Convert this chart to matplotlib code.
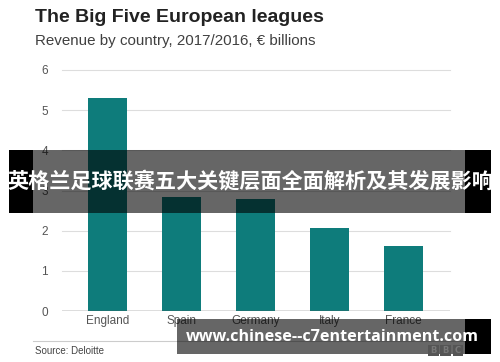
import matplotlib
matplotlib.use("Agg")
import matplotlib.pyplot as plt
from matplotlib.patches import Rectangle
from matplotlib.lines import Line2D

countries = ["England", "Spain", "Germany", "Italy", "France"]
revenue = [5.3, 2.85, 2.8, 2.07, 1.63]
yticks = [0, 1, 2, 3, 4, 5, 6]

title = "The Big Five European leagues"
subtitle = "Revenue by country, 2017/2016, \u20ac billions"
source = "Source: Deloitte"
banner = "英格兰足球联赛五大关键层面全面解析及其发展影响"
site = "www.chinese--c7entertainment.com"

W, H = 500, 362
fig = plt.figure(figsize=(W / 100, H / 100), dpi=100)
fig.patch.set_facecolor("white")


def fx(px):
    return px / W


def fy(py):
    return 1 - py / H


ax = fig.add_axes([fx(62), fy(311), fx(450) - fx(62), fy(70) - fy(311)])
x = range(len(countries))
ax.bar(x, revenue, width=0.53, color="#0e7c7b", zorder=2)
ax.set_xlim(-0.615, 4.63)
ax.set_ylim(0, 6)
ax.set_yticks(yticks)
ax.set_yticklabels([str(t) for t in yticks], fontsize=8.5, color="#555555",
                   family="Liberation Sans")
ax.set_xticks(list(x))
ax.set_xticklabels(countries, fontsize=8.5, color="#555555", family="Liberation Sans")
ax.tick_params(axis="both", length=0, pad=3)
ax.tick_params(axis="y", pad=10)
for t in yticks[1:]:
    ax.axhline(t, color="#dddddd", lw=0.8, zorder=1, clip_on=False)
ax.axhline(0, color="#555555", lw=1.0, zorder=3)
for s in ax.spines.values():
    s.set_visible(False)

fig.text(fx(35), fy(17), title, fontsize=14, fontweight="bold", color="#222222",
         family="Liberation Sans", va="center", ha="left")
fig.text(fx(35), fy(41), subtitle, fontsize=10.9, color="#404040",
         family="Liberation Sans", va="center", ha="left")

fig.add_artist(Line2D([fx(33), fx(470)], [fy(341), fy(341)], color="#cccccc", lw=0.8,
                      transform=fig.transFigure))
fig.text(fx(35), fy(351), source, fontsize=7, color="#444444",
         family="Liberation Sans", va="center", ha="left")

# overlay banner in the middle
fig.add_artist(Rectangle((fx(33), fy(213)), fx(465) - fx(33), fy(150) - fy(213),
                         transform=fig.transFigure, facecolor="black", alpha=0.6,
                         edgecolor="none", zorder=10))
for x0, x1 in [(9, 33), (465, 491)]:
    fig.add_artist(Rectangle((fx(x0), fy(213)), fx(x1) - fx(x0), fy(150) - fy(213),
                             transform=fig.transFigure, facecolor="black",
                             edgecolor="none", zorder=10))
fig.text(0.5, fy(182), banner, fontsize=15.2, fontweight="bold", color="white",
         family=["Noto Sans CJK SC", "DejaVu Sans"], va="center", ha="center", zorder=11)

# overlay banner at the bottom
fig.add_artist(Rectangle((fx(177), fy(354)), fx(465) - fx(177), fy(319) - fy(354),
                         transform=fig.transFigure, facecolor="black", alpha=0.6,
                         edgecolor="none", zorder=10))
fig.add_artist(Rectangle((fx(465), fy(354)), fx(491) - fx(465), fy(319) - fy(354),
                         transform=fig.transFigure, facecolor="black",
                         edgecolor="none", zorder=10))
for i, ch in enumerate("BBC"):
    bx = 428 + i * 12.3
    fig.add_artist(Rectangle((fx(bx), fy(356)), fx(10.5), fy(345) - fy(356),
                             transform=fig.transFigure, facecolor="#555555",
                             edgecolor="none", zorder=11))
    fig.text(fx(bx + 5.25), fy(350.5), ch, fontsize=6, color="#777777", fontweight="bold",
             va="center", ha="center", zorder=12)
fig.text(fx(332), fy(337), site, fontsize=11.6, fontweight="bold", color="white",
         family="Open Sans", va="center", ha="center", zorder=12)

fig.savefig("out.png", dpi=100)
